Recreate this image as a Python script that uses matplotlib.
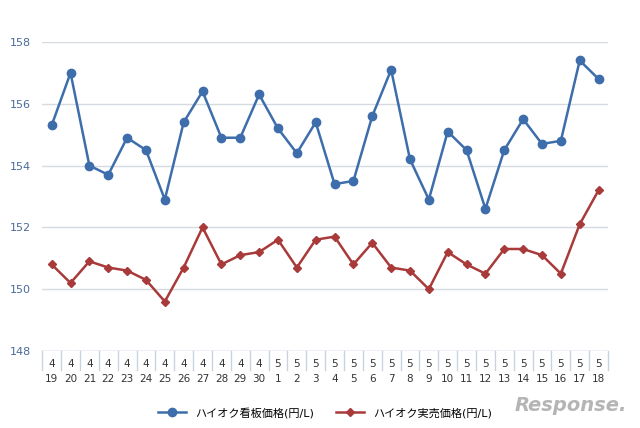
import matplotlib.pyplot as plt

months = [4]*12 + [5]*18
days = [19, 20, 21, 22, 23, 24, 25, 26, 27, 28, 29, 30,
        1, 2, 3, 4, 5, 6, 7, 8, 9, 10, 11, 12, 13, 14, 15, 16, 17, 18]

kanban = [155.3, 157.0, 154.0, 153.7, 154.9, 154.5, 152.9, 155.4, 156.4, 154.9,
          154.9, 156.3, 155.2, 154.4, 155.4, 153.4, 153.5, 155.6, 157.1, 154.2,
          152.9, 155.1, 154.5, 152.6, 154.5, 155.5, 154.7, 154.8, 157.4, 156.8]
jissai = [150.8, 150.2, 150.9, 150.7, 150.6, 150.3, 149.6, 150.7, 152.0, 150.8,
          151.1, 151.2, 151.6, 150.7, 151.6, 151.7, 150.8, 151.5, 150.7, 150.6,
          150.0, 151.2, 150.8, 150.5, 151.3, 151.3, 151.1, 150.5, 152.1, 153.2]

plt.rcParams['font.family'] = ['DejaVu Sans', 'Noto Sans CJK JP']
fig = plt.figure(figsize=(6.4, 4.28), dpi=100)
ax = fig.add_axes([0.066, 0.18, 0.884, 0.722])

x = list(range(len(days)))
blue = '#3d6eab'
red = '#a93a3a'
ax.plot(x, kanban, color=blue, lw=1.8, marker='o', ms=6, label='ハイオク看板価格(円/L)')
ax.plot(x, jissai, color=red, lw=1.8, marker='D', ms=4, label='ハイオク実売価格(円/L)')

ax.set_xlim(-0.5, len(days) - 0.5)
ax.set_ylim(148, 158)
ax.set_yticks(range(148, 159, 2))
ax.yaxis.grid(True, color='#d5d9e0', lw=1)
ax.set_axisbelow(True)
for s in ax.spines.values():
    s.set_visible(False)
ax.tick_params(axis='y', length=0, labelsize=8, labelcolor='#4a6a9a', pad=8)
ax.set_xticks(x)
ax.set_xticklabels([f'{m}\n{d}' for m, d in zip(months, days)], fontsize=7.5,
                   color='#333333', linespacing=1.6)
ax.tick_params(axis='x', length=0, pad=6)

# category boxes below the axis
sep = '#c8d2e2'
ax.axhline(148, color=sep, lw=1)
for i in range(len(days) + 1):
    ax.plot([i - 0.5, i - 0.5], [148, 147.4], color=sep, lw=1, clip_on=False)

ax.legend(loc='upper center', bbox_to_anchor=(0.5, -0.15), ncol=2, frameon=False,
          fontsize=8, handlelength=2.5, columnspacing=2)

fig.text(0.98, 0.03, 'Response.', ha='right', va='bottom', fontsize=14,
         style='italic', color='#b5b5b5', fontweight='bold')
fig.savefig('out.png', dpi=100)
